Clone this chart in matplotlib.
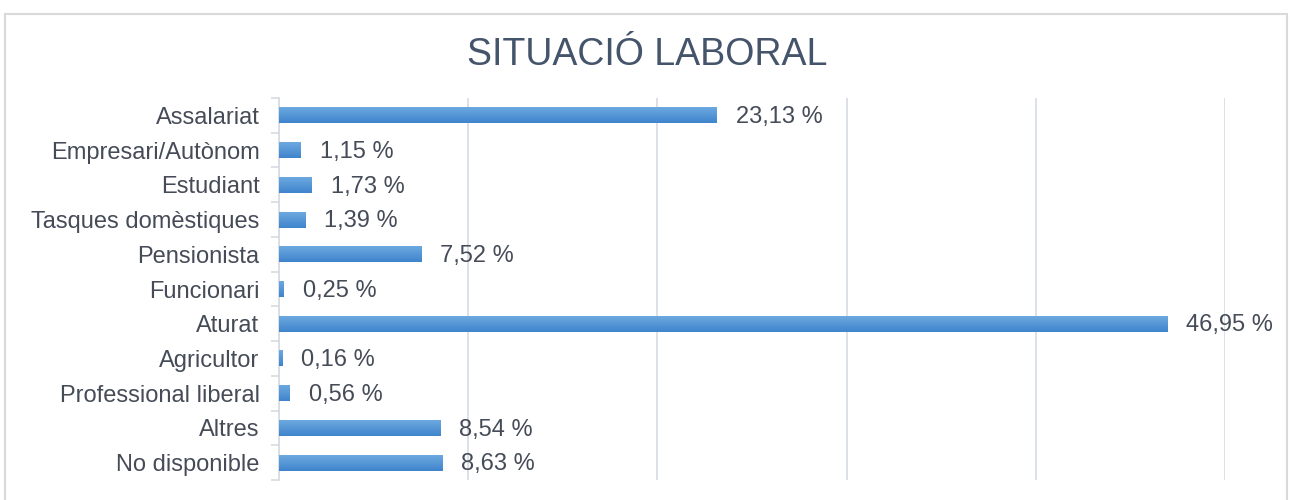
import numpy as np
import matplotlib
matplotlib.use("Agg")
import matplotlib.pyplot as plt
from matplotlib.patches import Rectangle

# -------------------------------
# Data
# -------------------------------
categories = ["Assalariat", "Empresari/Autònom", "Estudiant", "Tasques domèstiques",
              "Pensionista", "Funcionari", "Aturat", "Agricultor",
              "Professional liberal", "Altres", "No disponible"]
values = [23.13, 1.15, 1.73, 1.39, 7.52, 0.25, 46.95, 0.16, 0.56, 8.54, 8.63]
labels = ["23,13 %", "1,15 %", "1,73 %", "1,39 %", "7,52 %", "0,25 %",
          "46,95 %", "0,16 %", "0,56 %", "8,54 %", "8,63 %"]

plt.rcParams["font.family"] = ["Liberation Sans", "DejaVu Sans"]

fig = plt.figure(figsize=(12.94, 5.0), dpi=100)
ax = fig.add_axes([0.2156, 0.04, 0.7311, 0.764])

# frame around chart
fig.patches.append(Rectangle((5 / 1294, -0.02), 1282 / 1294, 1 - 14 / 500 + 0.02,
                             transform=fig.transFigure, fill=False,
                             edgecolor="#D9D9D9", linewidth=1.5))

y = np.arange(len(categories))
bar_h = 0.46
bars = ax.barh(y, values, height=bar_h, color="#5B9BD5", zorder=3)

# vertical gradient inside each bar (lighter on top)
grad = np.linspace(0, 1, 64).reshape(-1, 1)
cmap = matplotlib.colors.LinearSegmentedColormap.from_list("g", ["#3F84CC", "#6CA9E0"])
for b in bars:
    x0, y0 = b.get_x(), b.get_y()
    w, h = b.get_width(), b.get_height()
    im = ax.imshow(grad, extent=[x0, x0 + w, y0 + h, y0], aspect="auto",
                   cmap=cmap, zorder=4, origin="lower")
    im.set_clip_path(b)

for yi, v, lab in zip(y, values, labels):
    ax.text(v + 1.0, yi + 0.05, lab, va="center", ha="left",
            fontsize=17, color="#454C58", zorder=5)

ax.set_xlim(0, 50)
ax.set_ylim(len(categories) - 0.5, -0.5)
ax.set_xticks(np.arange(0, 51, 10))
ax.set_xticklabels([])
ax.tick_params(axis="x", length=0)
ax.grid(axis="x", color="#D6DCE4", linewidth=1.2, zorder=0)
ax.set_axisbelow(True)

ax.set_yticks(y)
ax.set_yticklabels(categories, fontsize=17, color="#454C58")
ax.set_yticks(np.arange(-0.5, len(categories), 1), minor=True)
ax.tick_params(axis="y", which="major", length=0, pad=14)
ax.tick_params(axis="y", which="minor", length=6, color="#D6DCE4", width=1.2)

for s in ["top", "right", "bottom"]:
    ax.spines[s].set_visible(False)
ax.spines["left"].set_color("#D6DCE4")
ax.spines["left"].set_linewidth(1.2)

fig.text(0.5, 0.89, "SITUACIÓ LABORAL", ha="center", va="center",
         fontsize=27, color="#44546A")

fig.savefig("out.png", dpi=100)
